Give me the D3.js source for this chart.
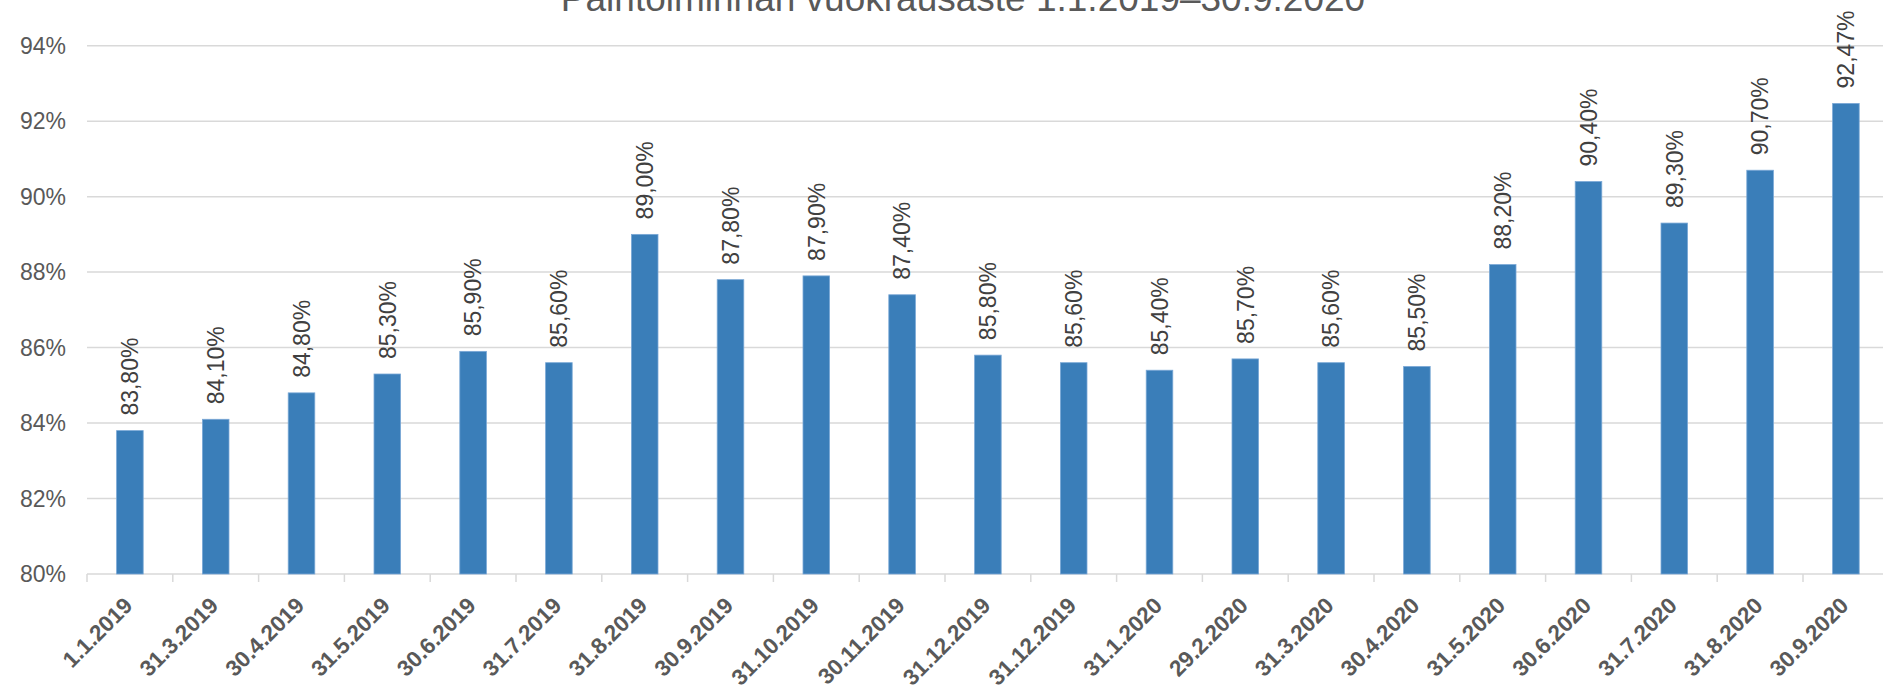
<!DOCTYPE html>
<html>
<head>
<meta charset="utf-8">
<script src="https://cdn.jsdelivr.net/npm/d3@7"></script>
<style>
  html, body { margin: 0; padding: 0; background: #fff; overflow: hidden; }
  svg { display: block; font-family: "Liberation Sans", Arial, sans-serif; }
</style>
</head>
<body>
<svg id="chart" width="1883" height="690"></svg>
<script>
const title = "Paintoiminnan vuokrausaste 1.1.2019–30.9.2020";
const categories = ["1.1.2019","31.3.2019","30.4.2019","31.5.2019","30.6.2019","31.7.2019","31.8.2019","30.9.2019","31.10.2019","30.11.2019","31.12.2019","31.12.2019","31.1.2020","29.2.2020","31.3.2020","30.4.2020","31.5.2020","30.6.2020","31.7.2020","31.8.2020","30.9.2020"];
const values = [83.8, 84.1, 84.8, 85.3, 85.9, 85.6, 89.0, 87.8, 87.9, 87.4, 85.8, 85.6, 85.4, 85.7, 85.6, 85.5, 88.2, 90.4, 89.3, 90.7, 92.47];
const valueLabels = ["83,80%","84,10%","84,80%","85,30%","85,90%","85,60%","89,00%","87,80%","87,90%","87,40%","85,80%","85,60%","85,40%","85,70%","85,60%","85,50%","88,20%","90,40%","89,30%","90,70%","92,47%"];
const yTicks = [80, 82, 84, 86, 88, 90, 92, 94];

const W = 1883, H = 690;
const svg = d3.select("#chart");
const plotLeft = 87, bandW = 85.8;
const x = d3.scaleBand().domain(d3.range(categories.length)).range([plotLeft, plotLeft + bandW * categories.length]).paddingInner(0.69).paddingOuter(0.345);
const y = d3.scaleLinear().domain([80, 94]).range([574, 45.7]);
const outer = d3.scaleBand().domain(d3.range(categories.length)).range([plotLeft, plotLeft + bandW * categories.length]);

// gridlines
svg.append("g").selectAll("line").data(yTicks).join("line")
  .attr("x1", plotLeft).attr("x2", W + 10)
  .attr("y1", d => y(d)).attr("y2", d => y(d))
  .attr("stroke", "#d9d9d9").attr("stroke-width", 1.5);

// y tick labels
svg.append("g").selectAll("text").data(yTicks).join("text")
  .attr("x", 66).attr("y", d => y(d)).attr("dy", "0.36em")
  .attr("text-anchor", "end").attr("fill", "#595959")
  .attr("font-size", 23).text(d => d + "%");

// x tick marks
const tickPos = d3.range(categories.length + 1).map(i => i < categories.length ? outer(i) : outer(categories.length - 1) + bandW);
svg.append("g").selectAll("line").data(tickPos).join("line")
  .attr("x1", d => d).attr("x2", d => d)
  .attr("y1", y(80)).attr("y2", y(80) + 8)
  .attr("stroke", "#d9d9d9").attr("stroke-width", 1.5);

// bars
svg.append("g").selectAll("rect").data(values).join("rect")
  .attr("x", (d, i) => x(i)).attr("width", x.bandwidth())
  .attr("y", d => y(d)).attr("height", d => y(80) - y(d))
  .attr("fill", "#3a7eb9").attr("stroke", "#7aa8d6").attr("stroke-width", 0.8);

// data labels
svg.append("g").selectAll("text").data(values).join("text")
  .attr("transform", (d, i) => `translate(${x(i) + x.bandwidth() / 2},${y(d) - 15}) rotate(-90)`)
  .attr("dy", "0.36em").attr("fill", "#404040").attr("font-size", 23)
  .text((d, i) => valueLabels[i]);

// x labels
svg.append("g").selectAll("text").data(categories).join("text")
  .attr("transform", (d, i) => `translate(${outer(i) + bandW / 2 + 4},${607}) rotate(-45)`)
  .attr("text-anchor", "end").attr("fill", "#595959")
  .attr("font-size", 22.5).attr("font-weight", "bold")
  .text(d => d);

// title (cut off at the top edge, as in the reference)
svg.append("text").attr("x", 963).attr("y", 11)
  .attr("text-anchor", "middle").attr("fill", "#595959")
  .attr("font-size", 37).text(title);
</script>
</body>
</html>
